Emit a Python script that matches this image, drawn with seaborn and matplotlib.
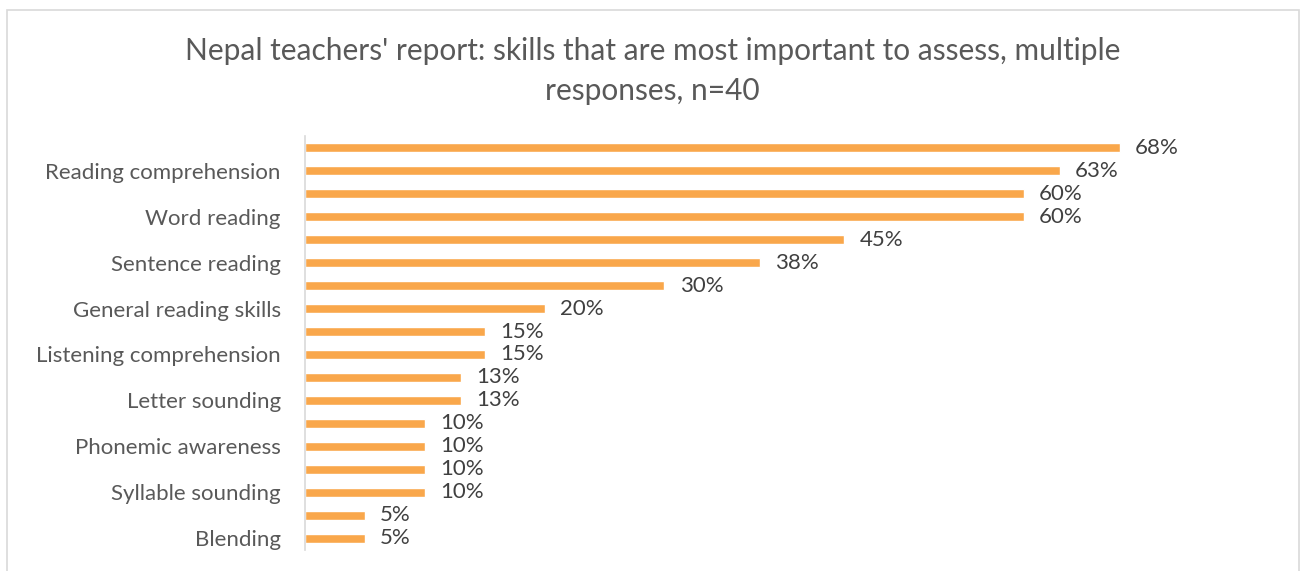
import matplotlib
matplotlib.use("Agg")
import matplotlib.pyplot as plt
import matplotlib.patches as mpatches
import seaborn as sns
import pandas as pd

# Share of teachers (%) naming each skill, one row per bar, top to bottom
values = [68, 63, 60, 60, 45, 38, 30, 20, 15, 15, 13, 13, 10, 10, 10, 10, 5, 5]
# Category labels drawn on every second row (rows 2, 4, ..., 18)
tick_labels = [
    "Reading comprehension",
    "Word reading",
    "Sentence reading",
    "General reading skills",
    "Listening comprehension",
    "Letter sounding",
    "Phonemic awareness",
    "Syllable sounding",
    "Blending",
]
title = "Nepal teachers' report: skills that are most important to assess, multiple\nresponses, n=40"

bar_color = "#F9A74B"
text_color = "#595959"

sns.set_theme(style="white")
plt.rcParams["font.family"] = ["Lato", "DejaVu Sans"]

df = pd.DataFrame({"row": [str(i) for i in range(len(values))], "pct": values})

fig = plt.figure(figsize=(13.02, 5.71), dpi=100)
ax = fig.add_axes([0.2343, 0.0368, 0.736, 0.725])

sns.barplot(data=df, x="pct", y="row", orient="h", color=bar_color,
            saturation=1, width=0.36, ax=ax)

ax.set_xlim(0, 80)
ax.set_ylim(len(values) - 0.5, -0.5)
ax.set_xticks([])
ax.set_xlabel("")
ax.set_ylabel("")
ax.set_yticks(range(1, len(values), 2))
ax.set_yticklabels(tick_labels, fontsize=16, color=text_color)
ax.tick_params(axis="y", length=0, pad=17.5)

for s in ["top", "right", "bottom"]:
    ax.spines[s].set_visible(False)
ax.spines["left"].set_color("#D9D9D9")
ax.spines["left"].set_linewidth(1.2)

for c in ax.containers:
    ax.bar_label(c, labels=[f"{v:.0f}%" for v in values], padding=11,
                 fontsize=16, color="#404040")

fig.text(0.501, 0.876, title, ha="center", va="center", fontsize=21.5,
         color=text_color, linespacing=1.5)

# Light grey frame around the chart area
fig.patches.append(mpatches.Rectangle((7 / 1302, -0.05), 1292 / 1302, 1.05 - 10 / 571,
                                      transform=fig.transFigure, fill=False,
                                      edgecolor="#D9D9D9", linewidth=1.2))

fig.savefig("out.png", dpi=100, facecolor="white")
